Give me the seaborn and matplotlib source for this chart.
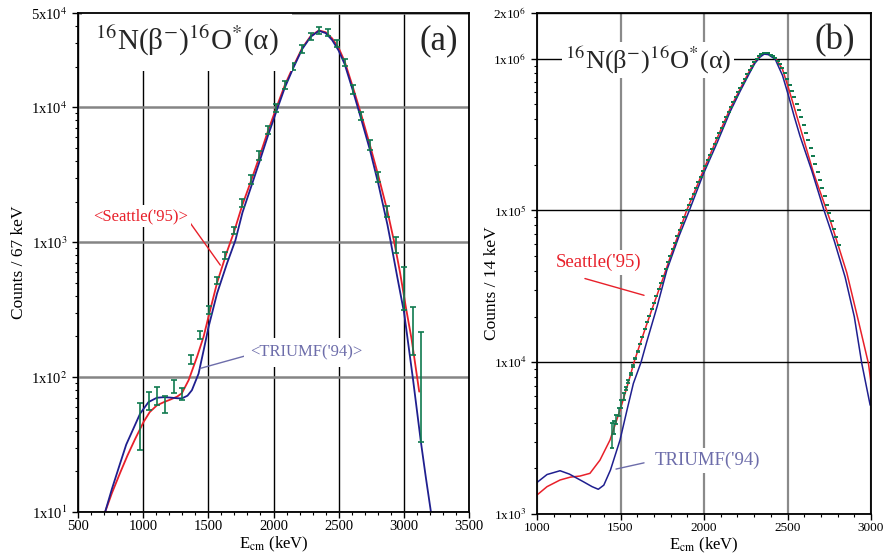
import numpy as np
import pandas as pd
import matplotlib
matplotlib.use("Agg")
import matplotlib.pyplot as plt
import seaborn as sns
from matplotlib.ticker import FixedLocator, FixedFormatter, MultipleLocator, LogLocator, NullFormatter

# ---------------- Panel (a) data ----------------
a_E = [977, 1041, 1105, 1169, 1233, 1297, 1369, 1433, 1502, 1567, 1631, 1695, 1762, 1828,
       1892, 1956, 2020, 2087, 2151, 2220, 2285, 2348, 2418, 2485, 2546, 2610, 2675, 2741,
       2805, 2874, 2938, 3002, 3072, 3131]
a_counts = [46.5, 67.4, 73, 63.5, 85.5, 75.7, 135, 207, 316, 521, 802, 1228, 1967, 2928,
            4385, 6805, 9875, 14720, 20035, 27000, 33700, 37260, 36000, 29850, 21470, 13585,
            8620, 5250, 3058, 1695, 963, 485, 239, 125]
a_err = [17.7, 10.4, 11, 9, 9.5, 8, 10, 14, 20, 32, 45, 69, 141, 205, 338, 425, 645, 950,
         1245, 1765, 2000, 2100, 2300, 1850, 1330, 965, 610, 450, 260, 155, 130, 171, 93, 92]

a_seattle_E = [708, 760, 823, 880, 938, 1003, 1050, 1105, 1160, 1208, 1260, 1297, 1349, 1413,
               1464, 1502, 1567, 1643, 1695, 1762, 1828, 1892, 1956, 2020, 2087, 2151, 2220,
               2285, 2348, 2400, 2450, 2500, 2546, 2610, 2675, 2741, 2805, 2874, 2926, 2970,
               3015, 3060, 3118]
a_seattle = [10, 13.8, 19.5, 26.3, 34.7, 46.5, 55, 61.7, 65.3, 68.1, 71.6, 75.9, 95, 141,
             200, 282, 500, 850, 1175, 1900, 2850, 4300, 6600, 9800, 14600, 20000, 27500,
             33650, 37150, 36000, 32400, 27500, 21900, 14000, 8700, 5200, 3090, 1700, 1005,
             603, 332, 190, 78]

a_triumf_E = [708, 760, 823, 870, 926, 977, 1041, 1105, 1160, 1208, 1260, 1297, 1340, 1374,
              1425, 1464, 1502, 1567, 1643, 1708, 1762, 1828, 1892, 1956, 2020, 2087, 2151,
              2220, 2285, 2348, 2400, 2450, 2500, 2546, 2610, 2675, 2741, 2805, 2874, 2900,
              2950, 3002, 3070, 3131, 3169, 3208]
a_triumf = [10, 14.8, 22.9, 31.6, 41.7, 53.7, 65.3, 70.3, 71, 70.5, 69.7, 69.5, 72.8, 80,
            106, 158, 236, 417, 695, 1035, 1660, 2570, 3940, 6100, 9200, 14000, 19500, 27000,
            33300, 36900, 35500, 31500, 26300, 20900, 13200, 8040, 4790, 2690, 1350, 1000,
            550, 300, 97, 33, 18, 10]

# ---------------- Panel (b) data ----------------
b_E = [1448, 1462, 1476, 1490, 1504, 1518, 1532, 1546, 1560, 1574,
       1588, 1602, 1616, 1630, 1644, 1658, 1672, 1686, 1700, 1714,
       1728, 1742, 1756, 1770, 1784, 1798, 1812, 1826, 1840, 1854,
       1868, 1882, 1896, 1910, 1924, 1938, 1952, 1966, 1980, 1994,
       2008, 2022, 2036, 2050, 2064, 2078, 2092, 2106, 2120, 2134,
       2148, 2162, 2176, 2190, 2204, 2218, 2232, 2246, 2260, 2274,
       2288, 2302, 2316, 2330, 2344, 2358, 2372, 2386, 2400, 2414,
       2428, 2442, 2456, 2470, 2484, 2498, 2512, 2526, 2540, 2554,
       2568, 2582, 2596, 2610, 2624, 2638, 2652, 2666, 2680, 2694,
       2708, 2722, 2736, 2750, 2764, 2778, 2792, 2806]
b_counts = [3340, 3750, 4210, 4730, 5310, 5960, 6680, 7500, 8410, 9440,
            10570, 11800, 13180, 14720, 16440, 18320, 20230, 22390, 24720, 27350,
            30200, 33340, 36900, 41100, 45600, 50100, 55500, 61400, 67900, 74800,
            82400, 90800, 100000, 108900, 118600, 129100, 140600, 153100, 166700, 182000,
            197700, 214800, 232800, 252900, 274800, 298500, 323600, 350800, 380200, 412100,
            446700, 483100, 518800, 558500, 599800, 644200, 690200, 739600, 790700, 847200,
            899500, 955000, 1000000, 1042000, 1072000, 1094000, 1094000, 1086000, 1064000, 1040000,
            1016000, 970500, 918300, 871000, 801700, 737900, 674500, 612400, 555900, 504700,
            458100, 412100, 366400, 325800, 290400, 258200, 229600, 203700, 180300, 159200,
            140600, 124200, 109400, 96600, 85300, 75500, 66700, 58900]
b_err_head = [610, 375, 300, 280, 300, 330, 160, 150, 140, 130, 120, 120]
b_err = b_err_head + [0] * (len(b_counts) - len(b_err_head))

b_seattle_E = [1000, 1060, 1138, 1200, 1257, 1317, 1377, 1437, 1497, 1540, 1581, 1620, 1657,
               1700, 1757, 1800, 1836, 1896, 1950, 1996, 2076, 2156, 2216, 2275, 2305, 2335,
               2360, 2385, 2410, 2431, 2470, 2505, 2540, 2575, 2615, 2655, 2690, 2725, 2760,
               2795, 2855, 2925, 2985, 3015]
b_seattle = [1334, 1514, 1675, 1750, 1778, 1853, 2265, 3069, 4831, 6918, 10000, 13490, 17780,
             24270, 36310, 50120, 64570, 100000, 138000, 183200, 295100, 467700, 631000,
             841400, 955000, 1047000, 1084000, 1076000, 1035000, 1000000, 851100, 645700,
             478600, 354800, 251200, 177800, 138000, 107200, 83180, 63100, 38900, 18620,
             9772, 5495]

b_triumf_E = [1000, 1060, 1138, 1194, 1277, 1330, 1367, 1400, 1440, 1497, 1540, 1577, 1623,
              1657, 1720, 1777, 1850, 1912, 1996, 2076, 2156, 2216, 2275, 2305, 2335, 2360,
              2385, 2410, 2425, 2470, 2505, 2540, 2575, 2645, 2719, 2780, 2845, 2900, 2945,
              2995]
b_triumf = [1614, 1820, 1928, 1832, 1633, 1514, 1455, 1549, 1950, 3069, 4898, 7244, 10000,
            13610, 23440, 40270, 67610, 100000, 173800, 275400, 446700, 609500, 812800,
            933300, 1023000, 1072000, 1064000, 1019000, 1000000, 776200, 575400, 416900,
            309000, 183200, 100000, 63100, 36390, 19950, 9795, 5212]

# ---------------- Style ----------------
sns.set_theme(style="ticks")
plt.rcParams['font.family'] = ['Liberation Serif', 'DejaVu Serif']
plt.rcParams['mathtext.fontset'] = 'stix'
plt.rcParams['axes.unicode_minus'] = False

RED = '#e8202a'
BLUE = '#1f1f8f'
GREEN = '#0f7a4f'
SLATE = '#6d6daa'

fig = plt.figure(figsize=(8.85, 5.54), dpi=100)
axA = fig.add_axes([78 / 885, 42 / 554, 391 / 885, 499 / 554])
axB = fig.add_axes([537 / 885, 40 / 554, 334 / 885, 501 / 554])


def sup_labels(exps, mant):
    return [f"{m}x10$^{{{e}}}$" for m, e in zip(mant, exps)]


# ---------------- Panel (a) ----------------
ax = axA
ax.set_yscale('log')
sns.lineplot(x=a_seattle_E, y=a_seattle, ax=ax, color=RED, lw=1.3, sort=False,
             estimator=None, zorder=3)
sns.lineplot(x=a_triumf_E, y=a_triumf, ax=ax, color=BLUE, lw=1.3, sort=False,
             estimator=None, zorder=3)
ax.errorbar(a_E, a_counts, yerr=a_err, fmt='none', ecolor=GREEN, elinewidth=1.2,
            capsize=2.2, capthick=1.2, zorder=4)
ax.set_xlim(500, 3500)
ax.set_ylim(10, 5e4)
ax.xaxis.set_major_locator(MultipleLocator(500))
ax.xaxis.set_minor_locator(MultipleLocator(100))
ax.yaxis.set_major_locator(FixedLocator([10, 100, 1000, 1e4, 5e4]))
ax.yaxis.set_major_formatter(FixedFormatter(sup_labels([1, 2, 3, 4, 4], [1, 1, 1, 1, 5])))
ax.yaxis.set_minor_locator(LogLocator(base=10, subs=np.arange(2, 10)))
ax.yaxis.set_minor_formatter(NullFormatter())
ax.set_axisbelow(True)
ax.xaxis.grid(True, which='major', color='black', lw=1.0)
ax.yaxis.grid(True, which='major', color='#858585', lw=1.8)
ax.tick_params(axis='x', labelsize=10.5, pad=1.5)
ax.tick_params(axis='y', labelsize=10.5)
ax.set_xlabel(r"E$_{\rm cm}$ (keV)", fontsize=12)
ax.set_ylabel("Counts / 67 keV", fontsize=12.5)
ax.xaxis.set_label_coords(0.5, -0.046)
ax.yaxis.set_label_coords(-0.13, 0.5)
ax.text(0.043, 0.944, r"$^{16}$N(β$^{-}$)$^{16}$O$^{*}$(α)", transform=ax.transAxes,
        fontsize=21, ha='left', va='center', zorder=6,
        bbox=dict(boxstyle='square,pad=0.45', fc='white', ec='none'))
ax.text(0.923, 0.944, "(a)", transform=ax.transAxes, fontsize=25, ha='center',
        va='center', zorder=6)
ax.text(615, 1560, "<Seattle('95)>", fontsize=12, color=RED, ha='left', va='center',
        zorder=6, bbox=dict(boxstyle='square,pad=0.2', fc='white', ec='none'))
ax.plot([1362, 1592], [1384, 676], color=RED, lw=1.0, zorder=5)
ax.text(1823, 152, "<TRIUMF('94)>", fontsize=12, color=SLATE, ha='left', va='center',
        zorder=6, bbox=dict(boxstyle='square,pad=0.4', fc='white', ec='none'))
ax.plot([1438, 1810], [116, 146], color=SLATE, lw=1.0, zorder=5)

# ---------------- Panel (b) ----------------
ax = axB
ax.set_yscale('log')
sns.lineplot(x=b_seattle_E, y=b_seattle, ax=ax, color=RED, lw=1.1, sort=False,
             estimator=None, zorder=3)
sns.lineplot(x=b_triumf_E, y=b_triumf, ax=ax, color=BLUE, lw=1.1, sort=False,
             estimator=None, zorder=3)
ax.errorbar(b_E, b_counts, yerr=b_err, fmt='none', ecolor=GREEN, elinewidth=1.1,
            capsize=1.6, capthick=1.3, zorder=4)
ax.set_xlim(1000, 3000)
ax.set_ylim(1e3, 2e6)
ax.xaxis.set_major_locator(MultipleLocator(500))
ax.xaxis.set_minor_locator(MultipleLocator(100))
ax.yaxis.set_major_locator(FixedLocator([1e3, 1e4, 1e5, 1e6, 2e6]))
ax.yaxis.set_major_formatter(FixedFormatter(sup_labels([3, 4, 5, 6, 6], [1, 1, 1, 1, 2])))
ax.yaxis.set_minor_locator(LogLocator(base=10, subs=np.arange(2, 10)))
ax.yaxis.set_minor_formatter(NullFormatter())
ax.set_axisbelow(True)
ax.xaxis.grid(True, which='major', color='#8a8a8a', lw=1.6)
ax.yaxis.grid(True, which='major', color='black', lw=1.0)
ax.tick_params(axis='x', labelsize=9.5, pad=1.5)
ax.tick_params(axis='y', labelsize=9.5)
ax.set_xlabel(r"E$_{\rm cm}$ (keV)", fontsize=12)
ax.set_ylabel("Counts / 14 keV", fontsize=12.5)
ax.xaxis.set_label_coords(0.5, -0.044)
ax.yaxis.set_label_coords(-0.11, 0.46)
ax.text(0.084, 0.906, r"$^{16}$N(β$^{-}$)$^{16}$O$^{*}$(α)", transform=ax.transAxes,
        fontsize=19, ha='left', va='center', zorder=6,
        bbox=dict(boxstyle='square,pad=0.1', fc='white', ec='none'))
ax.text(0.892, 0.944, "(b)", transform=ax.transAxes, fontsize=25, ha='center',
        va='center', zorder=6)
ax.text(1114, 45500, "Seattle('95)", fontsize=13.5, color=RED, ha='left', va='center',
        zorder=6, bbox=dict(boxstyle='square,pad=0.2', fc='white', ec='none'))
ax.plot([1287, 1641], [35600, 27600], color=RED, lw=1.0, zorder=5)
ax.text(1707, 2265, "TRIUMF('94)", fontsize=13.5, color=SLATE, ha='left', va='center',
        zorder=6, bbox=dict(boxstyle='square,pad=0.2', fc='white', ec='none'))
ax.plot([1473, 1641], [1977, 2173], color=SLATE, lw=1.0, zorder=5)

for ax in (axA, axB):
    for sp in ax.spines.values():
        sp.set_visible(True)
        sp.set_color('black')
        sp.set_linewidth(1.3)
        sp.set_zorder(7)
    ax.tick_params(which='both', direction='out', color='black', top=False, right=False,
                   left=True, bottom=True, labelcolor='black')
    ax.tick_params(which='major', length=4, width=1.0)
    ax.tick_params(which='minor', length=2.5, width=0.8)
    ax.xaxis.label.set_color('black')
    ax.yaxis.label.set_color('black')

fig.savefig("out.png", dpi=100)
